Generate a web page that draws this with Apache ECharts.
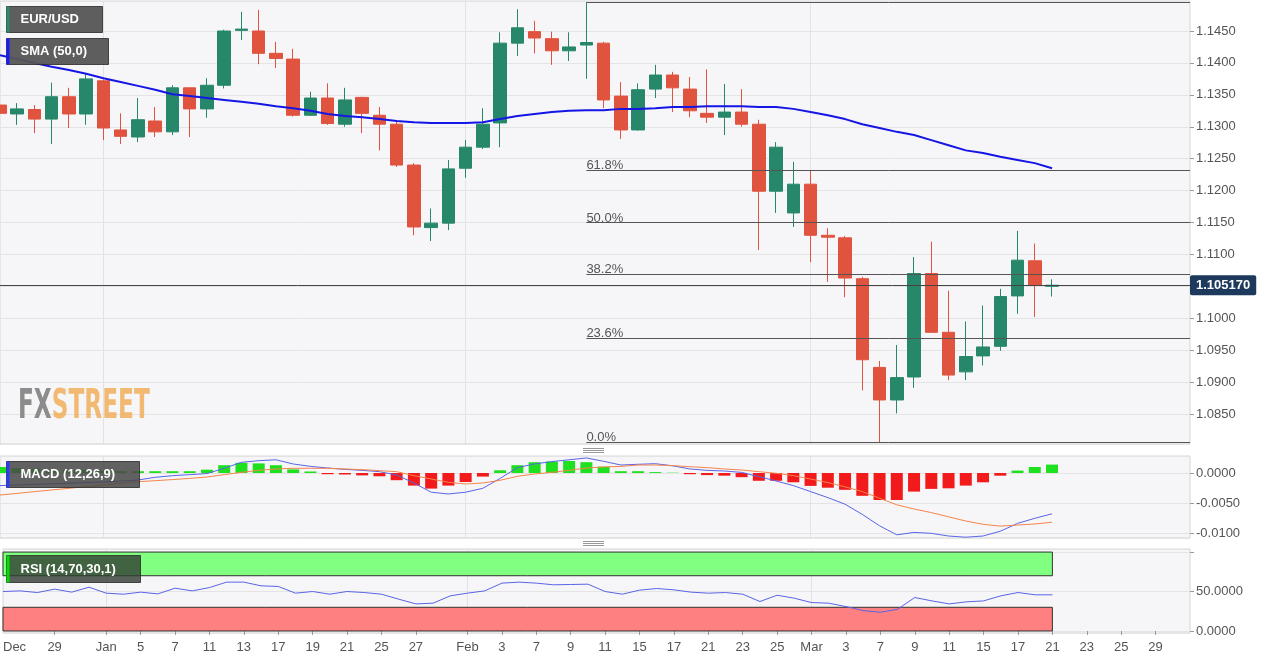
<!DOCTYPE html>
<html><head><meta charset="utf-8">
<script src="https://cdn.jsdelivr.net/npm/echarts@6/dist/echarts.min.js"></script>
<style>html,body{margin:0;padding:0;background:#fff}#c{width:1280px;height:664px}</style>
</head><body><div id="c"></div>
<script>
const dates = ['2021-12-24','2021-12-27','2021-12-28','2021-12-29','2021-12-30','2021-12-31',
'2022-01-03','2022-01-04','2022-01-05','2022-01-06','2022-01-07',
'2022-01-10','2022-01-11','2022-01-12','2022-01-13','2022-01-14',
'2022-01-17','2022-01-18','2022-01-19','2022-01-20','2022-01-21',
'2022-01-24','2022-01-25','2022-01-26','2022-01-27','2022-01-28',
'2022-01-31','2022-02-01','2022-02-02','2022-02-03','2022-02-04',
'2022-02-07','2022-02-08','2022-02-09','2022-02-10','2022-02-11',
'2022-02-14','2022-02-15','2022-02-16','2022-02-17','2022-02-18',
'2022-02-21','2022-02-22','2022-02-23','2022-02-24','2022-02-25',
'2022-02-28','2022-03-01','2022-03-02','2022-03-03','2022-03-04',
'2022-03-07','2022-03-08','2022-03-09','2022-03-10','2022-03-11',
'2022-03-14','2022-03-15','2022-03-16','2022-03-17','2022-03-18',
'2022-03-21','2022-03-22','2022-03-23','2022-03-24','2022-03-25',
'2022-03-28','2022-03-29','2022-03-30','2022-03-31'];
const xLabels = ['Dec','','','29','','','Jan','','5','','7','','11','','13','','17','','19','','21','','25','','27','','','Feb','','3','','7','','9','','11','','15','','17','','21','','23','','25','','Mar','','3','','7','','9','','11','','15','','17','','21','','23','','25','','29','',''];
const opens  = [1.1334,1.1320,1.1327,1.1312,1.1347,1.1320,1.1372,1.1295,1.1284,1.1309,1.1292,1.1361,1.1328,1.1365,1.1451,1.1450,1.1415,1.1406,1.1318,1.1345,1.1304,1.1346,1.1318,1.1304,1.1240,1.1142,1.1149,1.1235,1.1268,1.1306,1.1431,1.1449,1.1438,1.1419,1.1428,1.1431,1.1348,1.1295,1.1359,1.1381,1.1359,1.1321,1.1315,1.1323,1.1304,1.1199,1.1165,1.1210,1.1130,1.1126,1.1062,1.0923,1.0872,1.0908,1.1070,1.0978,1.0916,1.0941,1.0956,1.1035,1.1090,1.1050];
const highs  = [1.1342,1.1337,1.1334,1.1369,1.1361,1.1384,1.1374,1.1321,1.1345,1.1331,1.1365,1.1362,1.1376,1.1452,1.1480,1.1483,1.1433,1.1422,1.1355,1.1368,1.1361,1.1347,1.1331,1.1310,1.1243,1.1172,1.1248,1.1279,1.1329,1.1448,1.1484,1.1466,1.1449,1.1448,1.1495,1.1433,1.1370,1.1368,1.1397,1.1386,1.1378,1.1390,1.1367,1.1359,1.1311,1.1276,1.1245,1.1232,1.1141,1.1129,1.1065,1.0933,1.0958,1.1096,1.1120,1.1043,1.0995,1.1020,1.1046,1.1137,1.1117,1.1061];
const lows   = [1.1306,1.1303,1.1290,1.1273,1.1298,1.1303,1.1279,1.1273,1.1276,1.1284,1.1287,1.1284,1.1314,1.1360,1.1436,1.1398,1.1392,1.1316,1.1317,1.1303,1.1300,1.1290,1.1263,1.1237,1.1130,1.1121,1.1138,1.1220,1.1265,1.1268,1.1411,1.1415,1.1397,1.1403,1.1375,1.1329,1.1281,1.1294,1.1345,1.1323,1.1315,1.1306,1.1287,1.1300,1.1107,1.1165,1.1143,1.1088,1.1057,1.1033,1.0887,1.0806,1.0851,1.0891,1.0977,1.0903,1.0903,1.0926,1.0949,1.1007,1.1002,1.1034];
const closes = [1.1321,1.1328,1.1312,1.1347,1.1320,1.1375,1.1298,1.1285,1.1311,1.1292,1.1361,1.1328,1.1365,1.1450,1.1453,1.1415,1.1407,1.1318,1.1345,1.1305,1.1342,1.1321,1.1304,1.1240,1.1143,1.1149,1.1234,1.1268,1.1304,1.1431,1.1455,1.1439,1.1419,1.1425,1.1432,1.1342,1.1295,1.1358,1.1381,1.1361,1.1325,1.1315,1.1323,1.1304,1.1199,1.1268,1.1210,1.1130,1.1127,1.1063,1.0935,1.0872,1.0907,1.1070,1.0978,1.0911,1.0940,1.0955,1.1034,1.1091,1.1052,1.10517];
const sma50 = [1.1412,1.1406,1.1400,1.1394,1.1389,1.1383,1.1376,1.1370,1.1364,1.1358,1.1351,1.1348,1.1345,1.1342,1.1339,1.1336,1.1332,1.1329,1.1325,1.1320,1.1317,1.1315,1.1312,1.1309,1.1307,1.1306,1.1306,1.1306,1.1307,1.1312,1.1317,1.1320,1.1323,1.1325,1.1326,1.1326,1.1328,1.1328,1.1329,1.1331,1.1331,1.1332,1.1332,1.1332,1.1331,1.1331,1.1328,1.1323,1.1318,1.1312,1.1304,1.1298,1.1292,1.1287,1.1279,1.1271,1.1263,1.1259,1.1253,1.1248,1.1243,1.1235];
const macdLine = [-0.0021,-0.0020,-0.0019,-0.0018,-0.0017,-0.0016,-0.0015,-0.00135,-0.00117,-0.00072,-0.00045,-0.00028,-0.0001,0.00078,0.00178,0.00205,0.0022,0.0015,0.0011,0.00083,0.0006,0.00044,0.00022,-0.00033,-0.00167,-0.0032,-0.0035,-0.0032,-0.00255,-0.0009,0.0009,0.0015,0.0019,0.0022,0.0025,0.00195,0.00133,0.00145,0.00155,0.0012,0.00067,0.00044,0.00033,0.0001,-0.0006,-0.00133,-0.0021,-0.0031,-0.0041,-0.0052,-0.0069,-0.0088,-0.0103,-0.0099,-0.01005,-0.0105,-0.0107,-0.0105,-0.0097,-0.0084,-0.00755,-0.0068];
const signalLine = [-0.00367,-0.0034,-0.0031,-0.00283,-0.00255,-0.00228,-0.0020,-0.00172,-0.00145,-0.00128,-0.0011,-0.0009,-0.00067,-0.00028,0.0001,0.00044,0.00067,0.00078,0.00078,0.00078,0.00067,0.00056,0.00039,0.00022,-0.00044,-0.0010,-0.00155,-0.00183,-0.00167,-0.00122,-0.00055,-0.00017,0.0001,0.00044,0.00083,0.0010,0.0011,0.00133,0.00133,0.00122,0.00105,0.00089,0.00067,0.0005,0.00022,-0.00005,-0.00044,-0.0010,-0.0016,-0.0023,-0.0031,-0.0042,-0.0053,-0.0060,-0.0066,-0.0073,-0.0080,-0.00855,-0.00885,-0.00867,-0.0085,-0.0082];
const macdHist = [0.0010,0.0008,0.0007,0.0006,0.0005,0.0005,0.0004,0.0003,0.0003,0.0003,0.0003,0.0003,0.00055,0.0013,0.0017,0.0016,0.0013,0.0006,0.00025,-0.0002,-0.00025,-0.0004,-0.00055,-0.0012,-0.0021,-0.0026,-0.0021,-0.0015,-0.0006,0.00045,0.0013,0.0018,0.0019,0.0020,0.0018,0.00105,0.0003,0.0003,0.00015,0.00005,-0.0002,-0.00035,-0.00045,-0.0007,-0.0013,-0.0013,-0.00155,-0.00215,-0.00245,-0.0028,-0.0038,-0.0045,-0.0045,-0.0031,-0.00265,-0.00255,-0.0021,-0.00155,-0.00045,0.0004,0.0010,0.0014];
const rsi = [50,50.8,48.7,53,49.2,55.5,47.9,46.6,49.2,47,54.2,50.8,55,61.9,61.9,57.2,56.4,47.9,50,46.6,50,48.7,46.6,40.3,34.3,35.2,44.5,47.9,50.8,60.6,61.9,60.6,58.5,58.9,59.3,50,46.6,51.7,53.8,52.1,49.2,47.9,48.7,46.6,37.3,45.3,41.5,36,35.2,30.9,25.8,23.7,27.5,42.4,38.1,34.3,36.9,38.1,44.5,48.7,45.8,45.8];
const fibLevels = [1.1495,1.1232,1.1150,1.1069,1.0969,1.0806];
const fibNames = ['','61.8%','50.0%','38.2%','23.6%','0.0%'];
const fibStartDate = '2022-02-10';
const lastPrice = 1.10517;
const rsiOverbought = [70,100];
const rsiOversold = [0,30];

const UP='#26876a', DOWN='#e0533f';
const FONT = 'Liberation Sans, Arial, sans-serif';
const axisLabelStyle = {color:'#555', fontSize:13, fontFamily:FONT};
const gridStyle = {show:true, backgroundColor:'#f6f6f8', borderColor:'#d6d6d6', borderWidth:1, left:0, right:90};
const lastIdx = closes.length - 1;
const isMonth = (i) => i>0 && xLabels[i] !== '' && isNaN(+xLabels[i]);
function xAxisFor(gi, showLabels){
  return {
    type:'category', gridIndex:gi, boundaryGap:false,
    data: dates.map((d,i)=> (showLabels && i===0) ? {value:d, textStyle:{align:'left'}} : d),
    axisLine:{show:false},
    axisTick:{show:showLabels, length:4, lineStyle:{color:'#999'}, interval:(i)=> i>0 && xLabels[i]!==''},
    axisLabel:{show:showLabels, ...axisLabelStyle, margin:8, interval:(i)=> xLabels[i]!=='', formatter:(v,i)=> xLabels[i]},
    splitLine:{show:true, interval:(i)=> isMonth(i), lineStyle:{color:'#e2e2e2'}}
  };
}
function yAxisFor(gi, min, max, split, fmt){
  return {
    type:'value', gridIndex:gi, position:'right', min:min, max:max, splitNumber:split, scale:true,
    axisLine:{show:false},
    axisTick:{show:true, length:4, lineStyle:{color:'#999'}},
    axisLabel:{...axisLabelStyle, margin:6, showMinLabel:false, showMaxLabel:false, formatter:fmt},
    splitLine:{show:true, lineStyle:{color:'#e4e4e4'}}
  };
}
const fibLines = fibLevels.map((lv,k)=>[
  {coord:[fibStartDate, lv], label:{show: fibNames[k]!=='', formatter: fibNames[k], position:'insideStartTop', color:'#555', fontSize:13, fontFamily:FONT, distance:[0,-2]}},
  {coord:[dates[dates.length-1], lv]}
]);
const priceLine = [
  {coord:[dates[0], lastPrice], lineStyle:{color:'#444', width:1, type:'solid'},
   label:{show:true, position:'end', formatter: lastPrice.toFixed(6), backgroundColor:'#1d3a5c', color:'#fff', fontWeight:'bold', fontSize:13, fontFamily:FONT, padding:[4,6,3,6], borderRadius:2, distance:0}},
  {coord:[dates[dates.length-1], lastPrice]}
];
function labelBox(x,y,w,h,stripe,text,fill){
  return {type:'group', left:x, top:y, z:100, children:[
    {type:'rect', z:100, shape:{x:0,y:0,width:w,height:h}, style:{fill:fill, stroke:'rgba(40,40,40,0.8)', lineWidth:1}},
    {type:'rect', z:101, shape:{x:0,y:0,width:3,height:h}, style:{fill:stripe}},
    {type:'text', z:102, x:14, y:h/2, style:{text:text, fill:'#fff', font:'bold 13px "Liberation Sans", Arial, sans-serif', verticalAlign:'middle'}}
  ]};
}
function handle(cx, cy){
  return {type:'group', left:cx-10, top:cy-3, z:100, children:[0,2,4].map(d=>({type:'rect', z:100, shape:{x:0,y:d,width:21,height:1}, style:{fill:'#999'}}))};
}
const chart = echarts.init(document.getElementById('c'));
chart.setOption({
  animation:false,
  backgroundColor:'#ffffff',
  grid:[
    {...gridStyle, top:1, height:443},
    {...gridStyle, top:456, height:82},
    {...gridStyle, top:549, height:84}
  ],
  xAxis:[xAxisFor(0,false), xAxisFor(1,false), xAxisFor(2,true)],
  yAxis:[
    yAxisFor(0, 1.0803, 1.1497, 14, v=> Math.abs(v-1.105)<1e-6 ? '' : v.toFixed(4)),
    yAxisFor(1, -0.01083, 0.00283, 3, v=>v.toFixed(4)),
    yAxisFor(2, -2.6, 103.9, 2, v=> (v===0||v===50) ? v.toFixed(4) : '')
  ],
  graphic:[
    labelBox(6,6,96,26,'#2a8a6a','EUR/USD','rgba(85,85,85,0.95)'),
    labelBox(6,38,102,26,'#1a1aff','SMA (50,0)','rgba(85,85,85,0.95)'),
    labelBox(6,461,133,26,'#2a3aff','MACD (12,26,9)','rgba(70,70,70,0.85)'),
    labelBox(6,555,134,27,'#00e000','RSI (14,70,30,1)','rgba(50,60,50,0.8)'),
    handle(593,451), handle(593,544),
    {type:'text', left:18, top:388, z:50, scaleX:0.645, style:{text:'{a|FX}{b|STREET}', rich:{
      a:{fill:'#8c8c8c', fontSize:40, fontWeight:'bold', fontFamily:'DejaVu Sans Condensed, DejaVu Sans'},
      b:{fill:'rgba(240,170,80,0.8)', fontSize:40, fontWeight:'bold', fontFamily:'DejaVu Sans Condensed, DejaVu Sans'}}}}
  ],
  series:[
    {type:'candlestick', xAxisIndex:0, yAxisIndex:0, barWidth:13,
     data: opens.map((o,i)=>[o, closes[i], lows[i], highs[i]]),
     itemStyle:{color:UP, color0:DOWN, borderColor:UP, borderColor0:DOWN, borderWidth:1},
     markLine:{silent:true, symbol:['none','none'], animation:false,
       lineStyle:{color:'#555', width:1, type:'solid'},
       data: fibLines.concat([priceLine])
     }},
    {type:'line', name:'SMA', xAxisIndex:0, yAxisIndex:0, data:sma50, symbol:'none', lineStyle:{color:'#1515e6', width:2}, z:3},
    {type:'bar', xAxisIndex:1, yAxisIndex:1, data:macdHist, barWidth:12,
     itemStyle:{color:(p)=> p.value>=0 ? '#1fe01f' : '#f21a1a'}},
    {type:'line', xAxisIndex:1, yAxisIndex:1, data:macdLine, symbol:'none', lineStyle:{color:'#5a64e6', width:1}},
    {type:'line', xAxisIndex:1, yAxisIndex:1, data:signalLine, symbol:'none', lineStyle:{color:'#f5844a', width:1}},
    {type:'line', xAxisIndex:2, yAxisIndex:2, data:rsi, symbol:'none', lineStyle:{color:'#5a64e6', width:1}, z:3,
     markArea:{silent:true, data:[
       [{xAxis:dates[0], yAxis:rsiOverbought[0], itemStyle:{color:'#80ff80', borderColor:'#333', borderWidth:1}},{xAxis:dates[lastIdx], yAxis:rsiOverbought[1]}],
       [{xAxis:dates[0], yAxis:rsiOversold[0], itemStyle:{color:'#ff8080', borderColor:'#333', borderWidth:1}},{xAxis:dates[lastIdx], yAxis:rsiOversold[1]}]
     ]}}
  ]
});
</script></body></html>
